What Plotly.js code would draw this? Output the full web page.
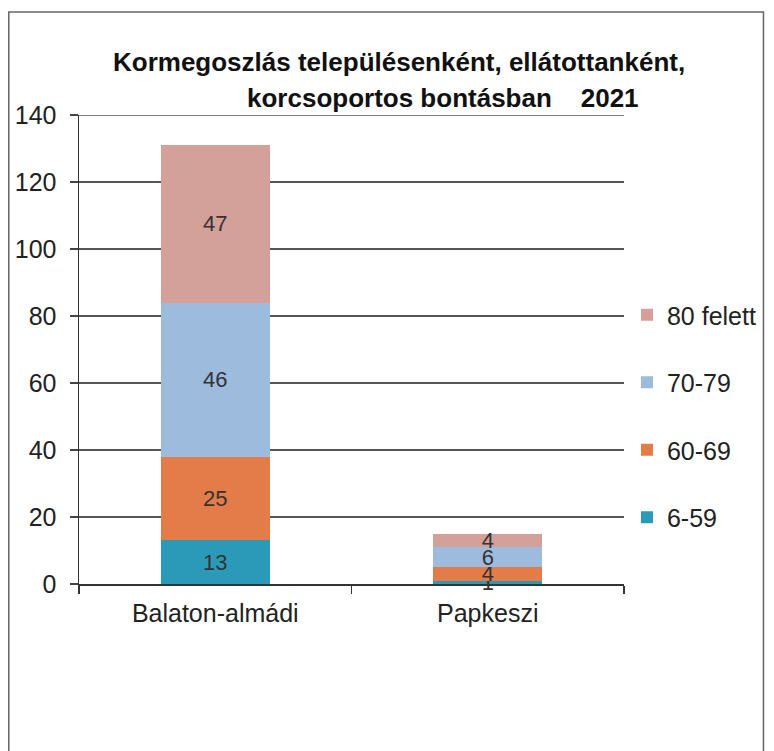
<!DOCTYPE html>
<html>
<head>
<meta charset="utf-8">
<script src="https://cdn.plot.ly/plotly-3.0.1.min.js"></script>
<style>html,body{margin:0;padding:0;background:#fff;}#chart{width:774px;height:751px;}</style>
</head>
<body>
<div id="chart"></div>
<script>
const categories = ["Balaton-almádi", "Papkeszi"];
const seriesNames = ["6-59", "60-69", "70-79", "80 felett"];
const v_6_59 = [13, 1];
const v_60_69 = [25, 4];
const v_70_79 = [46, 6];
const v_80_felett = [47, 4];
const yTicks = [0, 20, 40, 60, 80, 100, 120, 140];
const titleLine1 = "Kormegoszlás településenként, ellátottanként,";
const titleLine2 = "korcsoportos bontásban    2021";

const colors = ["#2b9ab8", "#e47c4a", "#9dbbdc", "#d4a09a"];
const seriesValues = [v_6_59, v_60_69, v_70_79, v_80_felett];
const FONT = "Liberation Sans, Arial, sans-serif";

const traces = seriesNames.map((name, i) => ({
  type: "bar",
  name: name,
  x: categories,
  y: seriesValues[i],
  marker: { color: colors[i] },
  text: seriesValues[i].map(String),
  textposition: "inside",
  insidetextanchor: "middle",
  textangle: 0,
  constraintext: "none",
  cliponaxis: false,
  textfont: { family: FONT, size: 22, color: "#333" },
  legendgroup: "g" + i,
  legendrank: 10 - i,
  hoverinfo: "skip"
}));

// plot area in pixels: x 79..630, y 115..584
const L = 79, R = 630, T = 115, B = 584;
const px = x => (x - L) / (R - L);
const py = y => (B - y) / (B - T);

const layout = {
  width: 774, height: 751,
  margin: { l: L, r: 774 - R, t: T, b: 751 - B },
  paper_bgcolor: "#ffffff",
  plot_bgcolor: "#ffffff",
  barmode: "stack",
  bargap: 0.6,
  showlegend: true,
  font: { family: FONT, color: "#222" },
  xaxis: {
    type: "category",
    tickson: "boundaries",
    ticks: "outside", ticklen: 8, tickwidth: 1.5, tickcolor: "#333",
    showline: true, linecolor: "#333", linewidth: 1.5,
    showgrid: false,
    ticklabelstandoff: 6,
    tickfont: { family: FONT, size: 25, color: "#222" },
    fixedrange: true
  },
  yaxis: {
    range: [0, 140],
    tickvals: yTicks,
    ticks: "outside", ticklen: 8, tickwidth: 1.5, tickcolor: "#444",
    showline: true, linecolor: "#333", linewidth: 1.5,
    showgrid: true, gridcolor: "#555", gridwidth: 1.5,
    zeroline: false,
    ticklabelstandoff: 8,
    tickfont: { family: FONT, size: 25, color: "#222" },
    fixedrange: true
  },
  legend: {
    x: px(633), y: py(292), xanchor: "left", yanchor: "top",
    traceorder: "grouped",
    tracegroupgap: 32,
    font: { family: FONT, size: 25, color: "#222" },
    bgcolor: "rgba(0,0,0,0)"
  },
  annotations: [
    { xref: "paper", yref: "paper", x: px(403), y: py(62), text: "<b>" + titleLine1 + "</b>",
      showarrow: false, xanchor: "center", yanchor: "middle",
      font: { family: FONT, size: 26, color: "#111" } },
    { xref: "paper", yref: "paper", x: px(447), y: py(98), text: "<b>" + titleLine2 + "</b>",
      showarrow: false, xanchor: "center", yanchor: "middle",
      font: { family: FONT, size: 26, color: "#111" } }
  ],
  shapes: [
    { type: "rect", xref: "paper", yref: "paper", x0: px(8), x1: px(771), y0: py(760), y1: py(12),
      line: { color: "#666", width: 1.5 }, fillcolor: "rgba(0,0,0,0)", layer: "below" },
    { type: "line", xref: "paper", yref: "y", x0: px(72), x1: 1, y0: 140, y1: 140,
      line: { color: "#555", width: 1.5 }, layer: "below" }
  ]
};

Plotly.newPlot("chart", traces, layout, { displayModeBar: false, staticPlot: true });
</script>
</body>
</html>
